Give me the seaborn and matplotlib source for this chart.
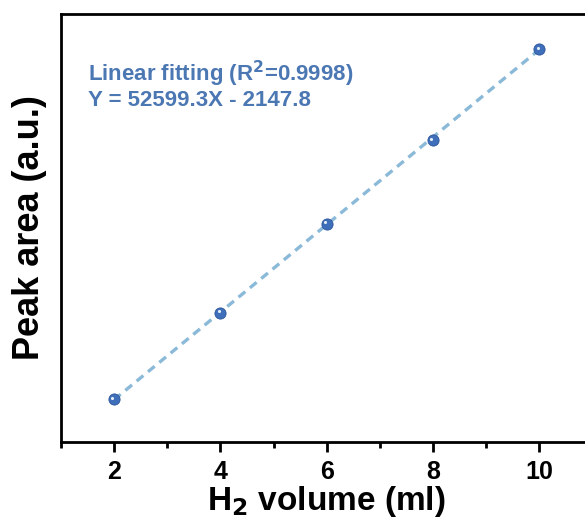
import numpy as np
import pandas as pd
import matplotlib
matplotlib.use("Agg")
import matplotlib.pyplot as plt
import matplotlib.transforms as mtransforms
import seaborn as sns
from matplotlib.ticker import MultipleLocator

# data
h2_volume = [2, 4, 6, 8, 10]
peak_area = [103500, 207500, 314000, 414500, 524000]
slope = 52599.3
intercept = -2147.8
r2 = 0.9998

sns.set_theme(style="ticks")
plt.rcParams['font.family'] = ['Liberation Sans', 'DejaVu Sans']
plt.rcParams['font.weight'] = 'bold'
plt.rcParams['mathtext.default'] = 'bf'
plt.rcParams['text.color'] = 'black'
plt.rcParams['axes.labelcolor'] = 'black'
plt.rcParams['xtick.color'] = 'black'

df = pd.DataFrame({'x': h2_volume, 'y': peak_area})
fit = pd.DataFrame({'x': h2_volume, 'y': [slope * v + intercept for v in h2_volume]})

fig = plt.figure(figsize=(5.85, 5.21), dpi=100)
ax = fig.add_axes([0.104, 0.152, 0.909, 0.822])

sns.lineplot(data=fit, x='x', y='y', ax=ax, color='#8bbad9', lw=2.4,
             linestyle=(0, (2.6, 1.8)), zorder=2)
sns.scatterplot(data=df, x='x', y='y', ax=ax, color='#3f6fba', s=65,
                edgecolor='#2d5699', linewidth=0.6, zorder=3)
# small highlight to mimic the shaded sphere markers
hl = mtransforms.offset_copy(ax.transData, fig=fig, x=-1.2, y=1.2, units='points')
ax.scatter(df['x'], df['y'], s=5, color='#e4edf8', zorder=4, linewidths=0,
           transform=hl)

ax.set_xlim(1, 11)
ax.set_ylim(52500, 567000)
ax.xaxis.set_major_locator(MultipleLocator(2))
ax.xaxis.set_minor_locator(MultipleLocator(1))
ax.set_yticks([])
ax.tick_params(axis='x', which='major', direction='out', length=7, width=2,
               labelsize=18, pad=6)
ax.tick_params(axis='x', which='minor', direction='out', length=4, width=2)
for lab in ax.get_xticklabels():
    lab.set_fontweight('bold')
for sp in ax.spines.values():
    sp.set_linewidth(2)
    sp.set_color('black')
    sp.set_visible(True)

ax.set_xlabel('H$_2$ volume (ml)', fontsize=24, fontweight='bold', labelpad=0)
ax.set_ylabel('Peak area (a.u.)', fontsize=26, fontweight='bold', labelpad=10)

ax.text(0.051, 0.841, 'Linear fitting (R$^2$=%.4f)' % r2, transform=ax.transAxes,
        color='#4b77b3', fontsize=16, fontweight='bold')
ax.text(0.051, 0.783, 'Y = %.1fX - %.1f' % (slope, -intercept), transform=ax.transAxes,
        color='#4b77b3', fontsize=16, fontweight='bold')

fig.savefig('out.png', dpi=100)
